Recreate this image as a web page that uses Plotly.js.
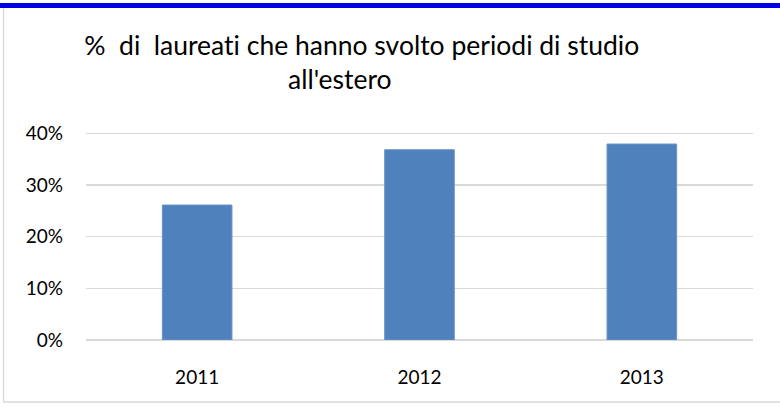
<!DOCTYPE html>
<html><head><meta charset="utf-8">
<script src="https://cdn.plot.ly/plotly-3.0.1.min.js"></script>
<style>html,body{margin:0;padding:0;background:#fff;}#chart{width:780px;height:407px;}
#chart text{font-variant-ligatures:none;font-feature-settings:"liga" 0;}</style>
</head><body><div id="chart"></div>
<script>
const years = ['2011', '2012', '2013'];
const shares = [0.261, 0.368, 0.379];
const yTicks = [0, 0.1, 0.2, 0.3, 0.4];
const yTickLabels = ['0%', '10%', '20%', '30%', '40%'];
const titleLine1 = '%\u00a0 di\u00a0 laureati che hanno svolto periodi di studio';
const titleLine2 = "all'estero";

const W = 780, H = 407;
const m = {l: 86, r: 27, t: 128, b: 67};
const pw = W - m.l - m.r, ph = H - m.t - m.b;
const px = x => (x - m.l) / pw;
const py = y => (H - m.b - y) / ph;

const trace = {
  type: 'bar', x: years, y: shares,
  marker: {color: '#4f81bd', line: {color: '#6a93c8', width: 1}},
  hoverinfo: 'none'
};
const layout = {
  width: W, height: H, margin: m,
  paper_bgcolor: '#fff', plot_bgcolor: '#fff',
  font: {family: 'Lato, Carlito, Calibri, sans-serif', color: '#000', size: 19},
  bargap: 0.687, showlegend: false,
  xaxis: {type: 'category', showgrid: false, zeroline: false, showline: false,
          ticks: '', tickfont: {size: 19}, ticklabelstandoff: 24},
  yaxis: {range: [0, 0.41], tickvals: yTicks, ticktext: yTickLabels,
          showgrid: true, gridcolor: '#d9d9d9', gridwidth: 1.3,
          zeroline: true, zerolinecolor: '#d9d9d9', zerolinewidth: 1.3,
          showline: false, ticks: '', tickfont: {size: 19}, ticklabelstandoff: 22, fixedrange: true},
  annotations: [
    {text: titleLine1, xref: 'paper', yref: 'paper', x: px(361), y: py(45), xanchor: 'center', yanchor: 'middle',
     showarrow: false, font: {size: 26.5, color: '#000'}},
    {text: titleLine2, xref: 'paper', yref: 'paper', x: px(340), y: py(79), xanchor: 'center', yanchor: 'middle',
     showarrow: false, font: {size: 26.5, color: '#000'}}
  ],
  shapes: [
    {type: 'rect', xref: 'paper', yref: 'paper', x0: px(0), x1: px(780), y0: py(8), y1: py(3),
     fillcolor: '#0000e6', line: {width: 0}},
    {type: 'line', xref: 'paper', yref: 'paper', x0: px(3.5), x1: px(3.5), y0: py(8), y1: py(402),
     line: {color: '#d9d9d9', width: 1.3}},
    {type: 'line', xref: 'paper', yref: 'paper', x0: px(3.5), x1: px(780), y0: py(402), y1: py(402),
     line: {color: '#d9d9d9', width: 1.3}}
  ]
};
Plotly.newPlot('chart', [trace], layout, {displayModeBar: false, staticPlot: true});
</script></body></html>
